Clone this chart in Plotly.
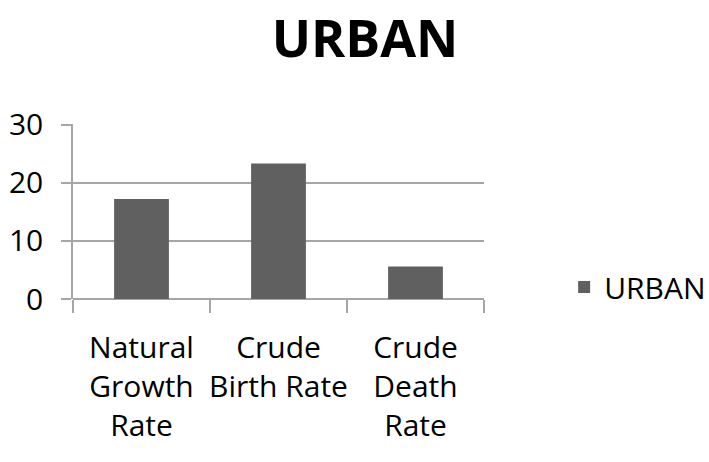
import plotly.graph_objects as go

categories = ["Natural<br>Growth<br>Rate", "Crude<br>Birth Rate", "Crude<br>Death<br>Rate"]
urban_values = [17.2, 23.3, 5.6]
y_ticks = [0, 10, 20, 30]
series_name = "URBAN"

FONT = "Open Sans"
GRID = "#a6a6a6"

fig = go.Figure()
fig.add_trace(go.Bar(
    x=categories, y=urban_values, name=series_name,
    marker=dict(color="#606060", line=dict(width=0)),
    showlegend=True,
))

fig.update_layout(
    width=709, height=462,
    margin=dict(l=73, r=225, t=124, b=163, autoexpand=False),
    paper_bgcolor="white", plot_bgcolor="white",
    bargap=0.6,
    title=dict(text="<b>URBAN</b>", x=365/709, xanchor="center",
               y=1 - 39/462, yanchor="middle",
               font=dict(family=FONT, size=52, color="black")),
    font=dict(family=FONT, color="black"),
    legend=dict(x=1.195, y=0.069, xanchor="left", yanchor="middle",
                font=dict(family=FONT, size=30, color="black"),
                bgcolor="rgba(0,0,0,0)", itemwidth=30),
    xaxis=dict(showgrid=False, showline=False, ticks="outside", tickson="boundaries",
               ticklen=13, tickcolor=GRID, tickwidth=1.5, tickangle=0,
               ticklabelstandoff=28,
               tickfont=dict(family=FONT, size=30, color="black")),
    yaxis=dict(range=[0, 30.1], tickvals=y_ticks, showgrid=True, gridcolor=GRID, gridwidth=1.5,
               showline=True, linecolor=GRID, linewidth=1.5,
               ticks="outside", ticklen=10, tickcolor=GRID, tickwidth=1.5,
               ticklabelstandoff=12,
               zeroline=True, zerolinecolor=GRID, zerolinewidth=1.5,
               tickfont=dict(family=FONT, size=30, color="black")),
)

fig.write_html("out.html", config={"displayModeBar": False},
               post_script="document.body.style.margin='0px';")
